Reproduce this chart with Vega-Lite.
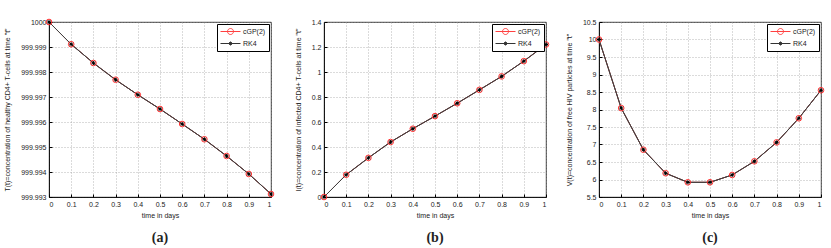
{
  "$schema": "https://vega.github.io/schema/vega-lite/v6.json",
  "padding": {"left": 3, "top": 16, "right": 5, "bottom": 2},
  "background": "white",
  "bounds": "flush",
  "spacing": 53,
  "resolve": {"scale": {"color": "independent"}, "legend": {"color": "independent"}},
  "config": {
    "font": "Liberation Sans",
    "view": {"stroke": "black", "strokeWidth": 0.8},
    "axis": {
      "gridDash": [1, 2], "gridColor": "#999", "gridOpacity": 1, "gridWidth": 0.7,
      "domainColor": "black", "domainWidth": 0.8, "tickColor": "black", "tickSize": -3,
      "labelFont": "Liberation Sans", "labelFontSize": 7, "labelColor": "#222", "labelPadding": 6,
      "titleFont": "Liberation Sans", "titleFontSize": 7, "titleFontWeight": "normal", "titleColor": "#222", "titlePadding": 4
    },
    "axisY": {"titlePadding": 10},
    "legend": {
      "orient": "top-right", "offset": 2, "title": null,
      "strokeColor": "black", "fillColor": "white", "padding": 3,
      "symbolSize": 64, "symbolStrokeWidth": 1, "labelOffset": 14,
      "labelFont": "Liberation Sans", "labelFontSize": 7, "labelColor": "#222", "rowPadding": 2
    },
    "title": {"font": "Liberation Serif", "fontSize": 14, "fontWeight": "bold", "color": "#222"}
  },
  "datasets": {
    "sol": [
      {"t": 0.0, "method": "cGP(2)", "T": 1000, "I": 0, "V": 10},
      {"t": 0.1, "method": "cGP(2)", "T": 999.99911, "I": 0.178, "V": 8.04},
      {"t": 0.2, "method": "cGP(2)", "T": 999.99836, "I": 0.313, "V": 6.85},
      {"t": 0.3, "method": "cGP(2)", "T": 999.99769, "I": 0.44, "V": 6.18},
      {"t": 0.4, "method": "cGP(2)", "T": 999.99709, "I": 0.546, "V": 5.92},
      {"t": 0.5, "method": "cGP(2)", "T": 999.99652, "I": 0.647, "V": 5.92},
      {"t": 0.6, "method": "cGP(2)", "T": 999.99592, "I": 0.75, "V": 6.13},
      {"t": 0.7, "method": "cGP(2)", "T": 999.99531, "I": 0.857, "V": 6.52},
      {"t": 0.8, "method": "cGP(2)", "T": 999.99464, "I": 0.965, "V": 7.06},
      {"t": 0.9, "method": "cGP(2)", "T": 999.99392, "I": 1.087, "V": 7.75},
      {"t": 1.0, "method": "cGP(2)", "T": 999.99312, "I": 1.22, "V": 8.55},
      {"t": 0.0, "method": "RK4", "T": 1000, "I": 0, "V": 10},
      {"t": 0.1, "method": "RK4", "T": 999.99911, "I": 0.178, "V": 8.04},
      {"t": 0.2, "method": "RK4", "T": 999.99836, "I": 0.313, "V": 6.85},
      {"t": 0.3, "method": "RK4", "T": 999.99769, "I": 0.44, "V": 6.18},
      {"t": 0.4, "method": "RK4", "T": 999.99709, "I": 0.546, "V": 5.92},
      {"t": 0.5, "method": "RK4", "T": 999.99652, "I": 0.647, "V": 5.92},
      {"t": 0.6, "method": "RK4", "T": 999.99592, "I": 0.75, "V": 6.13},
      {"t": 0.7, "method": "RK4", "T": 999.99531, "I": 0.857, "V": 6.52},
      {"t": 0.8, "method": "RK4", "T": 999.99464, "I": 0.965, "V": 7.06},
      {"t": 0.9, "method": "RK4", "T": 999.99392, "I": 1.087, "V": 7.75},
      {"t": 1.0, "method": "RK4", "T": 999.99312, "I": 1.22, "V": 8.55}
    ],
    "expo5": [{"label": "× 10⁻⁵"}],
    "expo4": [{"label": "× 10⁻⁴"}]
  },
  "hconcat": [
    {
      "width": 222, "height": 175,
      "title": {"text": "(a)", "orient": "bottom", "offset": 13},
      "encoding": {
        "x": {"field": "t", "type": "quantitative", "scale": {"domain": [0, 1], "nice": false},
              "axis": {"values": [0, 0.1, 0.2, 0.3, 0.4, 0.5, 0.6, 0.7, 0.8, 0.9, 1], "format": "~g", "title": "time in days"}},
        "y": {"field": "T", "type": "quantitative", "scale": {"domain": [999.993, 1000], "nice": false, "zero": false},
              "axis": {"values": [999.993, 999.994, 999.995, 999.996, 999.997, 999.998, 999.999, 1000], "format": ".3~f",
                       "title": "T(t)=concentration of healthy CD4+ T-cells at time \"t\""}}
      },
      "layer": [
        {"data": {"name": "sol"}, "mark": {"type": "line", "strokeWidth": 1},
         "encoding": {"color": {"field": "method", "type": "nominal",
           "scale": {"domain": ["cGP(2)", "RK4"], "range": ["#ff4040", "#333333"]},
           "legend": {"encode": {"symbols": {"update": {"shape": {"signal": "datum.value === 'RK4' ? 'M-1,0H4M1,0H2M1.5,-0.5V0.5M1.15,-0.35L1.85,0.35M1.15,0.35L1.85,-0.35' : 'M-1,0H4M2.25,0A0.75,0.75 0 1 1 0.75,0A0.75,0.75 0 1 1 2.25,0'"}, "fill": {"value": "transparent"}}}}}}}},
        {"data": {"name": "sol"}, "transform": [{"filter": "datum.method === 'RK4'"}], "mark": {"type": "line", "color": "#444", "strokeWidth": 0.9}},
        {"data": {"name": "sol"}, "transform": [{"filter": "datum.method === 'cGP(2)'"}], "mark": {"type": "point", "shape": "circle", "filled": false, "color": "#ff3030", "size": 32, "strokeWidth": 1, "opacity": 1}},
        {"data": {"name": "sol"}, "transform": [{"filter": "datum.method === 'RK4'"}], "mark": {"type": "point", "shape": "M-1,0L1,0M0,-1L0,1M-0.7,-0.7L0.7,0.7M-0.7,0.7L0.7,-0.7", "filled": false, "color": "black", "size": 16, "strokeWidth": 1, "opacity": 1}}
      ]
    },
    {
      "width": 222, "height": 175,
      "title": {"text": "(b)", "orient": "bottom", "offset": 13},
      "encoding": {
        "x": {"field": "t", "type": "quantitative", "scale": {"domain": [0, 1], "nice": false},
              "axis": {"values": [0, 0.1, 0.2, 0.3, 0.4, 0.5, 0.6, 0.7, 0.8, 0.9, 1], "format": "~g", "title": "time in days"}},
        "y": {"field": "I", "type": "quantitative", "scale": {"domain": [0, 1.4], "nice": false},
              "axis": {"values": [0, 0.2, 0.4, 0.6, 0.8, 1, 1.2, 1.4], "format": "~g",
                       "title": "I(t)=concentration of infected CD4+ T-cells at time \"t\""}}
      },
      "layer": [
        {"data": {"name": "sol"}, "mark": {"type": "line", "strokeWidth": 1},
         "encoding": {"color": {"field": "method", "type": "nominal",
           "scale": {"domain": ["cGP(2)", "RK4"], "range": ["#ff4040", "#333333"]},
           "legend": {"encode": {"symbols": {"update": {"shape": {"signal": "datum.value === 'RK4' ? 'M-1,0H4M1,0H2M1.5,-0.5V0.5M1.15,-0.35L1.85,0.35M1.15,0.35L1.85,-0.35' : 'M-1,0H4M2.25,0A0.75,0.75 0 1 1 0.75,0A0.75,0.75 0 1 1 2.25,0'"}, "fill": {"value": "transparent"}}}}}}}},
        {"data": {"name": "sol"}, "transform": [{"filter": "datum.method === 'RK4'"}], "mark": {"type": "line", "color": "#444", "strokeWidth": 0.9}},
        {"data": {"name": "sol"}, "transform": [{"filter": "datum.method === 'cGP(2)'"}], "mark": {"type": "point", "shape": "circle", "filled": false, "color": "#ff3030", "size": 32, "strokeWidth": 1, "opacity": 1}},
        {"data": {"name": "sol"}, "transform": [{"filter": "datum.method === 'RK4'"}], "mark": {"type": "point", "shape": "M-1,0L1,0M0,-1L0,1M-0.7,-0.7L0.7,0.7M-0.7,0.7L0.7,-0.7", "filled": false, "color": "black", "size": 16, "strokeWidth": 1, "opacity": 1}},
        {"data": {"name": "expo5"}, "mark": {"type": "text", "align": "left", "baseline": "bottom", "dy": -3, "fontSize": 6.5, "color": "#222"},
         "encoding": {"x": {"datum": 0}, "y": {"datum": 1.4}, "text": {"field": "label"}}}
      ]
    },
    {
      "width": 222, "height": 175,
      "title": {"text": "(c)", "orient": "bottom", "offset": 13},
      "encoding": {
        "x": {"field": "t", "type": "quantitative", "scale": {"domain": [0, 1], "nice": false},
              "axis": {"values": [0, 0.1, 0.2, 0.3, 0.4, 0.5, 0.6, 0.7, 0.8, 0.9, 1], "format": "~g", "title": "time in days"}},
        "y": {"field": "V", "type": "quantitative", "scale": {"domain": [5.5, 10.5], "nice": false, "zero": false},
              "axis": {"values": [5.5, 6, 6.5, 7, 7.5, 8, 8.5, 9, 9.5, 10, 10.5], "format": "~g",
                       "title": "V(t)=concentration of free HIV particles at time \"t\""}}
      },
      "layer": [
        {"data": {"name": "sol"}, "mark": {"type": "line", "strokeWidth": 1},
         "encoding": {"color": {"field": "method", "type": "nominal",
           "scale": {"domain": ["cGP(2)", "RK4"], "range": ["#ff4040", "#333333"]},
           "legend": {"encode": {"symbols": {"update": {"shape": {"signal": "datum.value === 'RK4' ? 'M-1,0H4M1,0H2M1.5,-0.5V0.5M1.15,-0.35L1.85,0.35M1.15,0.35L1.85,-0.35' : 'M-1,0H4M2.25,0A0.75,0.75 0 1 1 0.75,0A0.75,0.75 0 1 1 2.25,0'"}, "fill": {"value": "transparent"}}}}}}}},
        {"data": {"name": "sol"}, "transform": [{"filter": "datum.method === 'RK4'"}], "mark": {"type": "line", "color": "#444", "strokeWidth": 0.9}},
        {"data": {"name": "sol"}, "transform": [{"filter": "datum.method === 'cGP(2)'"}], "mark": {"type": "point", "shape": "circle", "filled": false, "color": "#ff3030", "size": 32, "strokeWidth": 1, "opacity": 1}},
        {"data": {"name": "sol"}, "transform": [{"filter": "datum.method === 'RK4'"}], "mark": {"type": "point", "shape": "M-1,0L1,0M0,-1L0,1M-0.7,-0.7L0.7,0.7M-0.7,0.7L0.7,-0.7", "filled": false, "color": "black", "size": 16, "strokeWidth": 1, "opacity": 1}},
        {"data": {"name": "expo4"}, "mark": {"type": "text", "align": "left", "baseline": "bottom", "dy": -3, "fontSize": 6.5, "color": "#222"},
         "encoding": {"x": {"datum": 0}, "y": {"datum": 10.5}, "text": {"field": "label"}}}
      ]
    }
  ]
}
